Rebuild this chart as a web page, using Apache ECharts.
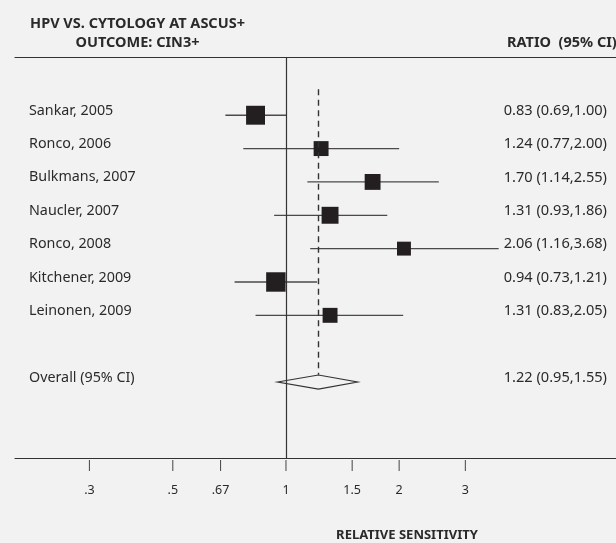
<!DOCTYPE html>
<html><head><meta charset="utf-8">
<script src="https://cdn.jsdelivr.net/npm/echarts@6/dist/echarts.min.js"></script>
<style>html,body{margin:0;padding:0;background:#f2f2f2}#c{width:616px;height:543px}</style>
</head><body><div id="c"></div>
<script>
// ---- data ----
const studies = ['Sankar, 2005','Ronco, 2006','Bulkmans, 2007','Naucler, 2007','Ronco, 2008','Kitchener, 2009','Leinonen, 2009'];
const estimates = [0.83, 1.24, 1.70, 1.31, 2.06, 0.94, 1.31];
const lowerCI   = [0.69, 0.77, 1.14, 0.93, 1.16, 0.73, 0.83];
const upperCI   = [1.00, 2.00, 2.55, 1.86, 3.68, 1.21, 2.05];
const studyWeights = [18.5, 11.5, 13.0, 14.8, 10.0, 19.5, 11.5]; // relative weights (%)
const overallLabel = 'Overall (95% CI)';
const overallEst = 1.22, overallLo = 0.95, overallHi = 1.55;
const tickValues = [0.3, 0.5, 0.67, 1, 1.5, 2, 3];
const tickLabels = ['.3', '.5', '.67', '1', '1.5', '2', '3'];

const overallRow = studies.length + 1;
const fmt = (e, l, h) => e.toFixed(2) + ' (' + l.toFixed(2) + ',' + h.toFixed(2) + ')';
const TXT = '#2a2a2a';
const FONT = '"Noto Sans", "DejaVu Sans", sans-serif';

const labelRows = studies.map((s, i) => [1, i, s, fmt(estimates[i], lowerCI[i], upperCI[i])]);
labelRows.push([1, overallRow, overallLabel, fmt(overallEst, overallLo, overallHi)]);

const chart = echarts.init(document.getElementById('c'), null, {renderer: 'canvas'});
const xBase = {type: 'log', logBase: Math.E, min: 0.1902, max: 7.549,
  axisTick: {show: false}, axisLabel: {show: false}, splitLine: {show: false},
  axisLine: {show: true, onZero: false, lineStyle: {color: '#333', width: 1.2}}};

chart.setOption({
  backgroundColor: '#f2f2f2',
  animation: false,
  grid: {left: 15, right: 0, top: 57, bottom: 85},
  xAxis: [Object.assign({position: 'bottom'}, xBase), Object.assign({position: 'top'}, xBase)],
  yAxis: {type: 'value', inverse: true, min: -1.746, max: 10.278, show: false},
  graphic: [
    {type: 'text', style: {text: 'HPV VS. CYTOLOGY AT ASCUS+', x: 137.5, y: 24, align: 'center', verticalAlign: 'middle', font: 'bold 14.5px ' + FONT, fill: TXT}},
    {type: 'text', style: {text: 'OUTCOME: CIN3+', x: 137.5, y: 43, align: 'center', verticalAlign: 'middle', font: 'bold 14.5px ' + FONT, fill: TXT}},
    {type: 'text', style: {text: 'RATIO  (95% CI)', x: 507, y: 43, align: 'left', verticalAlign: 'middle', font: 'bold 14.5px ' + FONT, fill: TXT}},
    {type: 'text', style: {text: 'RELATIVE SENSITIVITY', x: 407, y: 535, align: 'center', verticalAlign: 'middle', font: 'bold 13px ' + FONT, fill: TXT}}
  ],
  series: [
    {
      type: 'custom', name: 'ci', clip: false, z: 2,
      data: studies.map((s, i) => [lowerCI[i], upperCI[i], i]),
      encode: {x: [0, 1], y: 2},
      renderItem(params, api) {
        const a = api.coord([api.value(0), api.value(2)]);
        const b = api.coord([api.value(1), api.value(2)]);
        return {type: 'line', shape: {x1: a[0], y1: a[1], x2: b[0], y2: b[1]}, style: {stroke: '#4a4a4a', lineWidth: 1.3}};
      },
      markLine: {
        silent: true, symbol: 'none', label: {show: false},
        data: [
          {xAxis: 1, lineStyle: {color: '#333', width: 1.2, type: 'solid'}},
          [{coord: [overallEst, -0.78], lineStyle: {color: '#333', width: 1.4, type: [6, 4.5]}}, {coord: [overallEst, overallRow - 0.22]}]
        ]
      }
    },
    {
      type: 'scatter', name: 'est', z: 3, symbol: 'rect',
      data: studies.map((s, i) => [estimates[i], i, studyWeights[i]]),
      symbolSize: d => Math.sqrt(d[2]) * 4.4,
      itemStyle: {color: '#231f20', opacity: 1}
    },
    {
      type: 'custom', name: 'overall', clip: false, z: 3,
      data: [[overallEst, overallLo, overallHi, overallRow]],
      encode: {x: [0, 1, 2], y: 3},
      renderItem(params, api) {
        const c = api.coord([api.value(0), api.value(3)]);
        const l = api.coord([api.value(1), api.value(3)]);
        const r = api.coord([api.value(2), api.value(3)]);
        const h = 7;
        return {type: 'polygon', shape: {points: [[l[0], c[1]], [c[0], c[1] - h], [r[0], c[1]], [c[0], c[1] + h]]},
          style: {fill: '#f2f2f2', stroke: '#333', lineWidth: 1.2}};
      }
    },
    {
      type: 'custom', name: 'labels', clip: false, z: 4,
      data: labelRows,
      encode: {x: 0, y: 1},
      renderItem(params, api) {
        const p = api.coord([1, api.value(1)]);
        const row = labelRows[params.dataIndex];
        return {type: 'group', children: [
          {type: 'text', style: {text: row[2], x: 29, y: p[1] - 4.5, align: 'left', verticalAlign: 'middle', font: '14.3px ' + FONT, fill: TXT}},
          {type: 'text', style: {text: row[3], x: 607, y: p[1] - 4.5, align: 'right', verticalAlign: 'middle', font: '14.6px ' + FONT, fill: TXT}}
        ]};
      }
    },
    {
      type: 'custom', name: 'ticks', clip: false, z: 4,
      data: tickValues.map(v => [v, 0]),
      encode: {x: 0, y: 1},
      renderItem(params, api) {
        const x = api.coord([api.value(0), 0])[0];
        const bottom = params.coordSys.y + params.coordSys.height;
        return {type: 'group', children: [
          {type: 'line', shape: {x1: x, y1: bottom + 2, x2: x, y2: bottom + 13}, style: {stroke: '#444', lineWidth: 1}},
          {type: 'text', style: {text: tickLabels[params.dataIndex], x: x, y: bottom + 32, align: 'center', verticalAlign: 'middle', font: '12.5px ' + FONT, fill: TXT}}
        ]};
      }
    }
  ]
});
</script>
</body></html>
